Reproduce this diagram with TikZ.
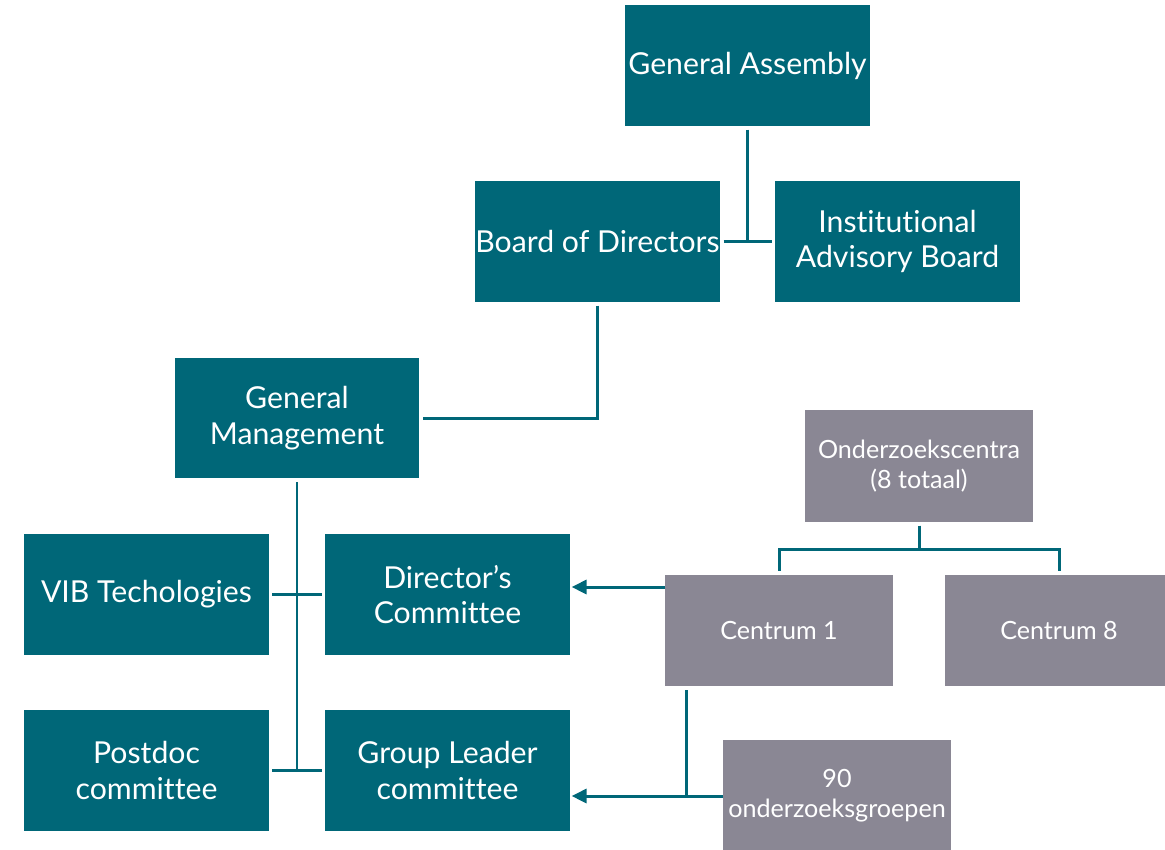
\documentclass[tikz,border=0pt]{standalone}
\usepackage{fontspec}
\setmainfont{Lato}[Ligatures=NoCommon]
\usetikzlibrary{arrows.meta}
\definecolor{vibteal}{RGB}{0,103,120}
\definecolor{vibgrey}{RGB}{138,135,148}
\tikzset{block/.style = {fill=vibteal, text=white, rectangle, align=center, inner sep=0pt, minimum height=121*0.567pt, minimum width=245*0.567pt, font=\fontsize{17.2}{20.4}\selectfont},
         centre/.style = {fill=vibgrey, text=white, rectangle, align=center, inner sep=0pt, minimum height=112*0.567pt, minimum width=228*0.567pt, font=\fontsize{14.3}{17}\selectfont},
         link/.style = {draw=vibteal, line width=1.7pt},
         arrow/.style = {link, -{Triangle[length=8.5pt,width=8pt]}}}

\begin{document}
\begin{tikzpicture}[x=0.02cm, y=-0.02cm]
    \useasboundingbox (0,0) rectangle (1165,849);
    \node[block](ga)at(747.5,65.5){General Assembly};
    \node[block](bod)at(597.5,241.5){Board of Directors};
    \node[block](iab)at(897.5,241.5){Institutional\\Advisory Board};
    \node[block](gm)at(297,418){General\\Management};
    \node[block](vib)at(146.5,594.5){VIB Techologies};
    \node[block](dc)at(447.5,594.5){Director’s\\Committee};
    \node[block](pd)at(146.5,770.5){Postdoc\\committee};
    \node[block](glc)at(447.5,770.5){Group Leader\\committee};

    \node[centre](oc)at(919,466){Onderzoekscentra\\(8 totaal)};
    \node[centre](c1)at(779,630.5){Centrum 1};
    \node[centre](c8)at(1059,630.5){Centrum 8};
    \node[centre](og)at(837,796){90\\onderzoeksgroepen};

    % top of the tree
    \draw[link, shorten <=2pt](ga.south)--(ga.south |- bod.east);
    \draw[link, shorten <=2pt, shorten >=2pt](bod.east)--(iab.west);
    \draw[link, shorten <=2pt, shorten >=2pt](bod.south)|-(gm.east);

    % management and committees
    \draw[link, shorten <=2pt](gm.south)--(gm.south |- pd.east);
    \draw[link, shorten <=2pt, shorten >=2pt](vib.east)--(dc.west);
    \draw[link, shorten <=2pt, shorten >=2pt](pd.east)--(glc.west);

    % research centres
    \draw[link, shorten <=2pt, shorten >=2pt](oc.south)--++(0,27)-|(c1.north);
    \draw[link, shorten <=2pt, shorten >=2pt](oc.south)--++(0,27)-|(c8.north);
    \coordinate(in1)at(665,587);
    \draw[arrow, shorten >=1pt](in1)--(dc.east |- in1);
    \path(c1.south west)++(21,0)coordinate(drop);
    \draw[link, shorten <=2pt](drop)--(drop |- og.west);
    \draw[arrow, shorten >=1pt](og.west)--(glc.east |- og.west);
\end{tikzpicture}
\end{document}
